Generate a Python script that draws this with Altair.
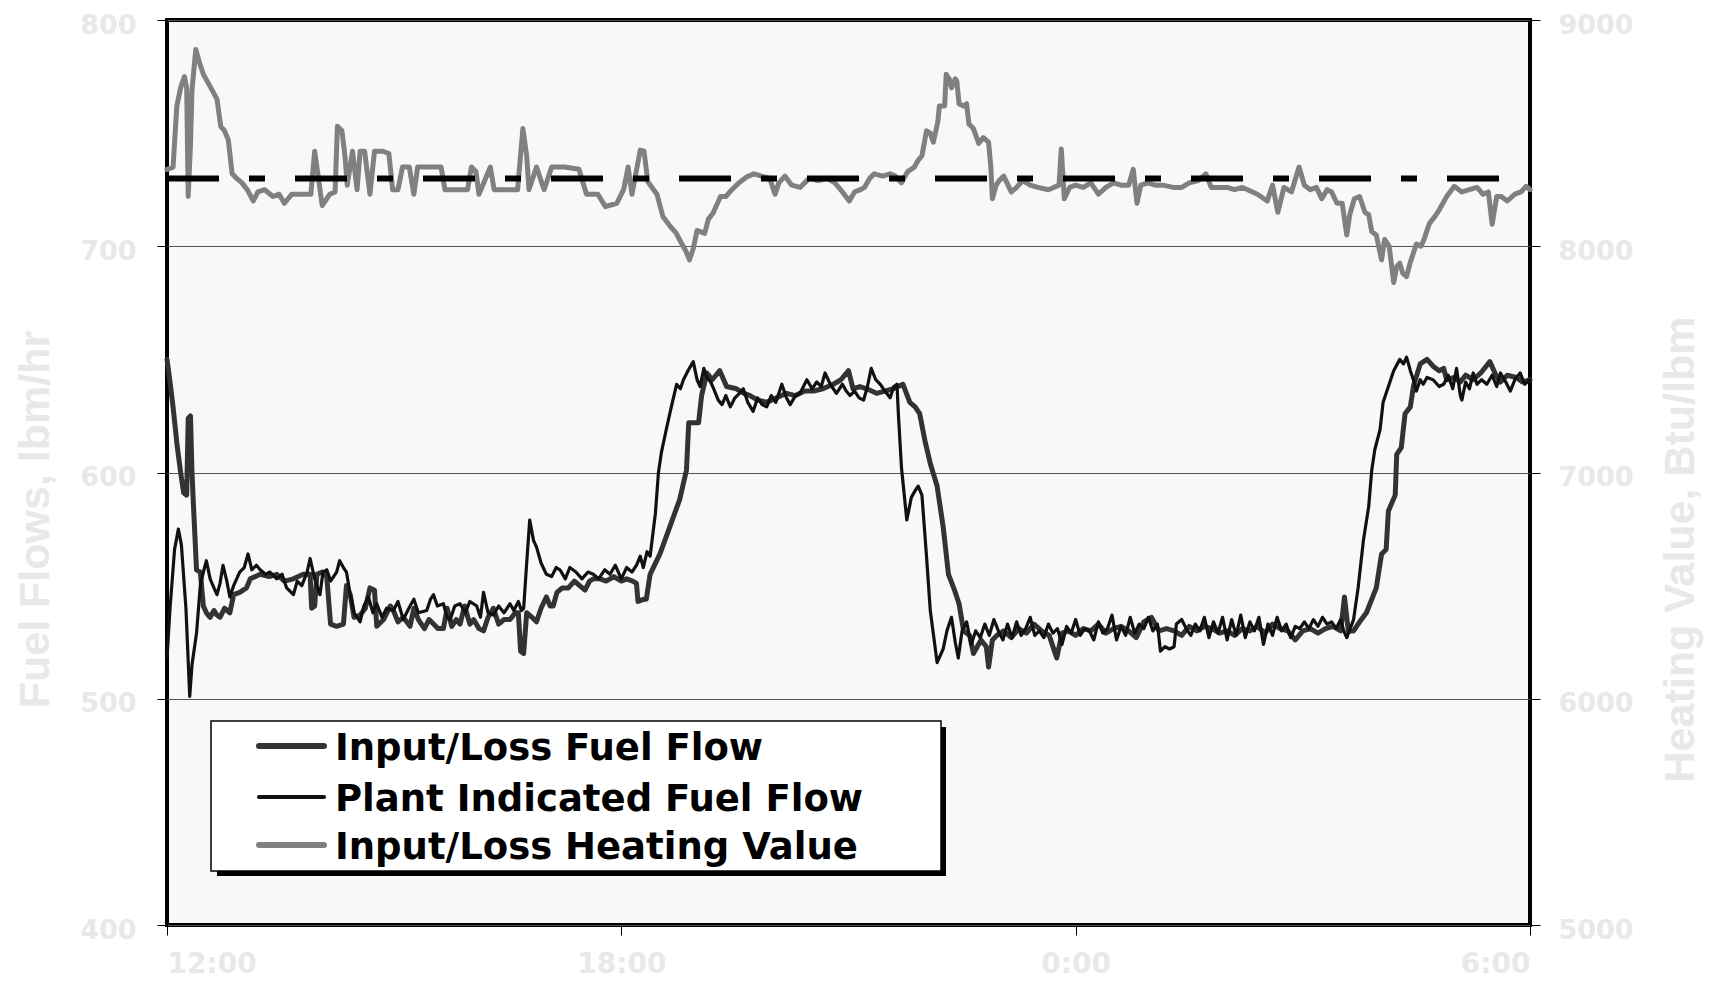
import altair as alt
import pandas as pd

# ---------------- data ----------------
series_names = ["Input/Loss Fuel Flow", "Plant Indicated Fuel Flow", "Input/Loss Heating Value"]
series_colors = ["#333333", "#111111", "#808080"]
x_tick_hours = [0, 6, 12, 18]
x_tick_labels = ["12:00", "18:00", "0:00", "6:00"]
left_ticks = [400, 500, 600, 700, 800]
right_ticks = [5000, 6000, 7000, 8000, 9000]
reference_heating_value = [8300]

# Input/Loss Fuel Flow (lbm/hr), hours after 12:00
thick_hours = [0.00, 0.04, 0.08, 0.13, 0.18, 0.22, 0.26, 0.28, 0.31, 0.33, 0.35, 0.39, 0.44, 0.48, 0.52, 0.57, 0.62, 0.66, 0.70, 0.76,
               0.83, 0.88, 0.96, 1.05, 1.10, 1.23, 1.35, 1.45, 1.55, 1.67, 1.80, 1.89, 1.91, 1.95, 1.98, 2.05, 2.11, 2.16, 2.24, 2.33,
               2.37, 2.42, 2.47, 2.55, 2.62, 2.68, 2.74, 2.77, 2.86, 2.95, 2.99, 3.05, 3.12, 3.21, 3.26, 3.32, 3.40, 3.46, 3.52, 3.58,
               3.65, 3.70, 3.76, 3.82, 3.87, 3.93, 4.00, 4.05, 4.12, 4.18, 4.24, 4.31, 4.38, 4.45, 4.53, 4.60, 4.64, 4.67, 4.71, 4.75,
               4.82, 4.88, 4.94, 5.01, 5.06, 5.10, 5.15, 5.22, 5.30, 5.38, 5.45, 5.52, 5.58, 5.63, 5.72, 5.80, 5.90, 6.00, 6.07, 6.15,
               6.20, 6.22, 6.30, 6.33, 6.38, 6.51, 6.64, 6.77, 6.86, 6.89, 7.02, 7.06, 7.13, 7.20, 7.30, 7.39, 7.52, 7.62, 7.70, 7.80,
               7.92, 8.05, 8.18, 8.30, 8.42, 8.54, 8.66, 8.80, 8.90, 9.00, 9.06, 9.15, 9.24, 9.37, 9.48, 9.59, 9.72, 9.81, 9.88, 9.94,
               10.01, 10.08, 10.17, 10.25, 10.32, 10.40, 10.46, 10.52, 10.60, 10.65, 10.75, 10.82, 10.85, 10.90, 10.96,
               11.05, 11.15, 11.25, 11.35, 11.45, 11.55, 11.65, 11.75, 11.82, 11.90, 12.00, 12.10, 12.20, 12.30, 12.40, 12.50, 12.60,
               12.70, 12.80, 12.90, 13.00, 13.10, 13.20, 13.30, 13.40, 13.50, 13.60, 13.70, 13.80, 13.90, 14.00, 14.10, 14.20, 14.30,
               14.40, 14.50, 14.60, 14.70, 14.80, 14.90, 15.00, 15.10, 15.20, 15.30, 15.40, 15.50, 15.55, 15.60, 15.67, 15.75, 15.84,
               15.97, 16.04, 16.10, 16.13, 16.22, 16.24, 16.30, 16.35, 16.42, 16.46, 16.55, 16.64, 16.72, 16.80, 16.86, 16.90, 17.00,
               17.08, 17.15, 17.25, 17.35, 17.47, 17.55, 17.61, 17.70, 17.82, 17.90, 18.00]
thick_values = [650, 640, 629, 613, 600, 591, 590, 624, 625, 600, 585, 557, 556, 541, 538, 536, 539, 537, 536, 540,
                538, 546, 547, 549, 553, 555, 554, 555, 552, 553, 555, 555, 540, 541, 555, 556, 554, 533, 532, 533,
                550, 546, 536, 537, 540, 549, 548, 532, 535, 541, 539, 534, 536, 532, 540, 535, 531, 535, 533, 531,
                531, 540, 532, 535, 533, 541, 533, 535, 531, 530, 536, 540, 533, 535, 535, 538, 538, 521, 520, 538,
                536, 534, 540, 545, 541, 541, 547, 549, 549, 552, 550, 548, 552, 553, 553, 552, 554, 552, 553, 552,
                551, 543, 544, 544, 555, 564, 576, 588, 601, 622, 622, 634, 644, 641, 645, 638, 637, 635, 634, 632,
                631, 633, 635, 634, 636, 636, 637, 639, 641, 645, 637, 638, 637, 635, 636, 637, 639, 631, 629, 626,
                614, 604, 594, 576, 555, 548, 542, 530, 528, 520, 526, 523, 514, 526, 528,
                530, 527, 531, 529, 533, 530, 528, 518, 529, 530, 528, 531, 530, 533, 529, 531, 532,
                530, 527, 534, 536, 530, 531, 530, 528, 532, 530, 532, 531, 529, 530, 528, 531, 530,
                532, 529, 533, 531, 530, 526, 530, 531, 529, 531, 532, 530, 545, 530, 530, 534, 538,
                549, 564, 566, 583, 590, 608, 611, 626, 629, 638, 648, 650, 647, 645, 646, 641, 642,
                640, 643, 641, 644, 649, 643, 640, 643, 642, 640, 641]

# Plant Indicated Fuel Flow (lbm/hr)
thin_hours = [0.00, 0.04, 0.10, 0.15, 0.19, 0.25, 0.30, 0.33, 0.39, 0.44, 0.48, 0.52, 0.57, 0.62, 0.66, 0.70, 0.74, 0.79, 0.83, 0.88,
              0.96, 1.02, 1.07, 1.12, 1.18, 1.23, 1.30, 1.36, 1.45, 1.52, 1.58, 1.67, 1.72, 1.78, 1.85, 1.89, 1.95, 2.02, 2.06, 2.11,
              2.16, 2.24, 2.28, 2.33, 2.37, 2.42, 2.47, 2.55, 2.60, 2.66, 2.72, 2.77, 2.84, 2.90, 2.99, 3.05, 3.12, 3.21, 3.26, 3.32,
              3.43, 3.48, 3.52, 3.57, 3.65, 3.70, 3.74, 3.80, 3.87, 3.94, 4.00, 4.09, 4.14, 4.18, 4.24, 4.31, 4.38, 4.45, 4.53, 4.58,
              4.64, 4.68, 4.71, 4.75, 4.79, 4.84, 4.88, 4.94, 5.01, 5.08, 5.14, 5.19, 5.26, 5.32, 5.40, 5.48, 5.56, 5.63, 5.70, 5.78,
              5.85, 5.92, 6.00, 6.07, 6.14, 6.20, 6.25, 6.29, 6.34, 6.38, 6.45, 6.49, 6.53, 6.60, 6.66, 6.73, 6.78, 6.82, 6.88, 6.95,
              7.00, 7.04, 7.09, 7.13, 7.18, 7.22, 7.28, 7.33, 7.38, 7.44, 7.50, 7.56, 7.61, 7.67, 7.74, 7.80, 7.86, 7.92, 7.98, 8.04,
              8.12, 8.18, 8.23, 8.30, 8.36, 8.45, 8.52, 8.58, 8.64, 8.69, 8.76, 8.84, 8.92, 8.97, 9.02, 9.08, 9.14, 9.20, 9.25, 9.30,
              9.36, 9.42, 9.48, 9.55, 9.60, 9.64, 9.66, 9.70, 9.77, 9.83, 9.88, 9.92, 9.97, 10.03, 10.08, 10.17, 10.25, 10.30, 10.36,
              10.41, 10.45, 10.50, 10.56, 10.62, 10.68, 10.74, 10.80, 10.86, 10.92, 10.98,
              11.04, 11.10, 11.16, 11.22, 11.28, 11.34, 11.40, 11.46, 11.52, 11.58, 11.64, 11.70, 11.76, 11.82, 11.88, 11.94, 12.00,
              12.06, 12.12, 12.18, 12.24, 12.30, 12.36, 12.42, 12.48, 12.54, 12.60, 12.66, 12.72, 12.78, 12.84, 12.90, 12.96, 13.02,
              13.08, 13.12, 13.18, 13.24, 13.30, 13.33, 13.40, 13.46, 13.52, 13.58, 13.64, 13.70, 13.76, 13.82, 13.88, 13.94, 14.00,
              14.06, 14.12, 14.18, 14.24, 14.30, 14.36, 14.42, 14.48, 14.54, 14.60, 14.66, 14.72, 14.78, 14.84, 14.90, 14.96, 15.02,
              15.08, 15.14, 15.20, 15.26, 15.32, 15.38, 15.44, 15.50, 15.54, 15.58, 15.67, 15.73, 15.80, 15.87, 15.91, 15.95, 16.02,
              16.06, 16.13, 16.20, 16.28, 16.33, 16.37, 16.42, 16.46, 16.50, 16.55, 16.59, 16.64, 16.72, 16.80, 16.86, 16.92, 16.98,
              17.03, 17.08, 17.10, 17.15, 17.20, 17.25, 17.30, 17.36, 17.43, 17.50, 17.56, 17.61, 17.68, 17.74, 17.80, 17.87, 17.93,
              18.00]
thin_values = [518, 540, 566, 575, 568, 540, 501, 515, 529, 550, 556, 561, 553, 549, 546, 551, 559, 552, 545, 550,
               556, 558, 564, 557, 559, 557, 555, 556, 553, 555, 549, 546, 552, 550, 556, 562, 553, 546, 556, 557,
               552, 556, 561, 558, 556, 546, 538, 534, 541, 545, 538, 542, 536, 540, 539, 543, 535, 541, 544, 538,
               539, 544, 546, 541, 542, 536, 535, 541, 542, 538, 543, 541, 536, 547, 538, 537, 541, 538, 542, 539,
               543, 539, 540, 560, 579, 570, 567, 560, 555, 554, 558, 557, 553, 558, 556, 553, 556, 555, 553, 557,
               555, 559, 553, 558, 556, 559, 563, 558, 565, 563, 582, 600, 609, 620, 629, 639, 637, 641, 645, 649,
               641, 638, 646, 642, 640, 637, 632, 630, 634, 629, 633, 635, 637, 631, 627, 633, 630, 629, 634, 631,
               639, 633, 630, 634, 635, 641, 637, 640, 638, 644, 639, 635, 639, 636, 634, 636, 633, 632, 638, 646,
               641, 639, 636, 633, 638, 639, 625, 602, 579, 589, 592, 594, 590, 563, 539, 516, 522, 530, 536,
               525, 518, 530, 534, 524, 530, 527, 533, 528, 535, 530,
               526, 533, 527, 534, 528, 531, 536, 528, 530, 527, 533, 529, 531, 524, 532, 529, 535,
               528, 531, 530, 526, 534, 529, 531, 537, 526, 532, 528, 536, 529, 533, 531, 536, 530,
               533, 521, 523, 522, 523, 533, 535, 531, 528, 533, 530, 536, 527, 534, 529, 536, 526,
               535, 528, 537, 527, 534, 530, 536, 524, 533, 528, 536, 530, 533, 527, 532, 531, 534,
               531, 535, 532, 536, 533, 534, 531, 535, 530, 527, 535, 549, 570, 585, 601, 610, 619,
               631, 638, 645, 650, 648, 651, 645, 641, 636, 641, 639, 642, 641, 638, 639, 643, 637,
               646, 634, 632, 640, 637, 644, 639, 641, 639, 643, 638, 644, 640, 636, 641, 644, 639,
               641]

# Input/Loss Heating Value (Btu/lbm)
heat_hours = [0.00, 0.08, 0.13, 0.18, 0.23, 0.26, 0.28, 0.31, 0.33, 0.38, 0.43, 0.48, 0.58, 0.66, 0.71, 0.76, 0.81, 0.86, 0.92, 0.99,
              1.06, 1.14, 1.20, 1.29, 1.40, 1.48, 1.55, 1.65, 1.80, 1.90, 1.95, 2.00, 2.05, 2.15, 2.22, 2.25, 2.31, 2.35, 2.38, 2.45,
              2.51, 2.55, 2.61, 2.68, 2.74, 2.85, 2.93, 2.98, 3.05, 3.11, 3.20, 3.26, 3.31, 3.45, 3.62, 3.67, 3.72, 3.90, 3.97, 4.02,
              4.08, 4.12, 4.27, 4.32, 4.50, 4.63, 4.70, 4.75, 4.78, 4.88, 4.98, 5.08, 5.25, 5.44, 5.54, 5.69, 5.79, 5.94, 6.03, 6.09,
              6.14, 6.25, 6.30, 6.35, 6.47, 6.55, 6.65, 6.72, 6.80, 6.85, 6.90, 6.95, 7.00, 7.10, 7.15, 7.21, 7.31, 7.38, 7.46, 7.55,
              7.66, 7.75, 7.85, 7.96, 8.03, 8.08, 8.16, 8.25, 8.36, 8.48, 8.60, 8.72, 8.82, 8.92, 9.01, 9.08, 9.16, 9.21, 9.28, 9.34,
              9.45, 9.55, 9.62, 9.70, 9.78, 9.87, 9.92, 9.97, 10.03, 10.08, 10.12, 10.18, 10.20, 10.27, 10.29, 10.33, 10.36, 10.41,
              10.43, 10.46, 10.52, 10.56, 10.59, 10.65, 10.72, 10.78, 10.85, 10.88, 10.90, 10.95, 10.99, 11.05, 11.15, 11.22, 11.30,
              11.40, 11.50, 11.64, 11.78, 11.81, 11.85, 11.92, 12.00, 12.10, 12.20, 12.30, 12.40, 12.50, 12.60, 12.70, 12.76, 12.81,
              12.86, 12.95, 13.05, 13.15, 13.29, 13.40, 13.50, 13.62, 13.72, 13.79, 13.90, 14.00, 14.10, 14.20, 14.27, 14.40, 14.53,
              14.60, 14.67, 14.75, 14.85, 14.95, 15.02, 15.10, 15.18, 15.25, 15.32, 15.38, 15.45, 15.52, 15.58, 15.62, 15.68, 15.75,
              15.82, 15.87, 15.91, 15.97, 16.04, 16.08, 16.14, 16.20, 16.24, 16.28, 16.32, 16.37, 16.42, 16.50, 16.56, 16.60, 16.67,
              16.74, 16.80, 16.90, 17.00, 17.10, 17.20, 17.30, 17.38, 17.45, 17.50, 17.56, 17.62, 17.70, 17.80, 17.88, 17.95, 18.00]
heat_values = [8340, 8350, 8620, 8700, 8750, 8700, 8220, 8450, 8690, 8870, 8810, 8760, 8700, 8650, 8530, 8510, 8470, 8320, 8300, 8280,
               8250, 8200, 8240, 8250, 8220, 8230, 8190, 8230, 8230, 8230, 8420, 8300, 8180, 8230, 8240, 8530, 8510, 8400, 8270, 8420,
               8250, 8420, 8420, 8230, 8420, 8420, 8410, 8250, 8250, 8350, 8350, 8230, 8350, 8350, 8350, 8250, 8250, 8250, 8250, 8350,
               8330, 8230, 8350, 8250, 8250, 8250, 8520, 8400, 8250, 8350, 8250, 8350, 8350, 8340, 8230, 8230, 8175, 8190, 8250, 8350,
               8230, 8425, 8420, 8285, 8230, 8130, 8086, 8060, 8010, 7980, 7940, 7990, 8070, 8057, 8120, 8146, 8220, 8220, 8250, 8280,
               8307, 8320, 8310, 8300, 8230, 8280, 8310, 8270, 8260, 8300, 8290, 8300, 8280, 8240, 8200, 8240, 8250, 8260, 8300, 8320,
               8310, 8320, 8310, 8280, 8330, 8350, 8380, 8400, 8510, 8500, 8460, 8550, 8620, 8620, 8760, 8740, 8700, 8740,
               8730, 8630, 8620, 8630, 8540, 8520, 8455, 8480, 8460, 8350, 8210, 8270, 8290, 8310, 8240, 8260, 8290,
               8270, 8260, 8250, 8270, 8430, 8210, 8260, 8270, 8260, 8280, 8230, 8260, 8280, 8270, 8270, 8340, 8190,
               8270, 8280, 8270, 8270, 8260, 8260, 8280, 8290, 8320, 8260, 8260, 8260, 8250, 8260, 8250, 8230, 8200,
               8270, 8150, 8260, 8240, 8350, 8270, 8250, 8260, 8210, 8250, 8240, 8190, 8190, 8050, 8140, 8210, 8220,
               8150, 8140, 8065, 8050, 7940, 8030, 8000, 7840, 7910, 7925, 7880, 7866, 7930, 8010, 8000, 8030, 8100,
               8130, 8160, 8220, 8265, 8240, 8250, 8260, 8230, 8240, 8097, 8220, 8220, 8200, 8230, 8240, 8265, 8250]

# ---------------- tables ----------------
thick_df = pd.DataFrame({"hour": thick_hours, "value": thick_values, "series": series_names[0]})
thin_df = pd.DataFrame({"hour": thin_hours, "value": thin_values, "series": series_names[1]})
heat_df = pd.DataFrame({"hour": heat_hours, "value": heat_values, "series": series_names[2]})
ref_df = pd.DataFrame({"value": reference_heating_value})
legend_df = pd.DataFrame({"series": series_names})
box_df = pd.DataFrame({"k": [0]})

LABEL_FONT = "DejaVu Sans"
TITLE_FONT = "Liberation Sans"
LIGHT = "#e8e8e8"
line_widths = [5, 3.2, 5]

label_js = "[" + ",".join("'" + s + "'" for s in x_tick_labels) + "]"
x_enc = alt.X(
    "hour:Q",
    scale=alt.Scale(domain=[0, 18], nice=False, zero=False),
    axis=alt.Axis(values=x_tick_hours, labelExpr=label_js + "[round(datum.value/6)]", title=None,
                  grid=False, domain=False, tickSize=10, tickColor="black", tickWidth=1,
                  labelFont=LABEL_FONT, labelFontSize=28, labelFontWeight="bold", labelColor=LIGHT,
                  labelPadding=15),
)

left_axis = alt.Axis(values=left_ticks, title="Fuel Flows, lbm/hr", grid=True, gridColor="#555555", gridWidth=1,
                     domain=False, tickSize=10, tickColor="black", tickWidth=1,
                     labelFont=LABEL_FONT, labelFontSize=27, labelFontWeight="bold", labelColor=LIGHT, labelPadding=21,
                     labelOffset=5,
                     titleFont=TITLE_FONT, titleFontSize=43, titleFontWeight="bold", titleColor=LIGHT,
                     titleAngle=270, titleAlign="center", titleBaseline="alphabetic", titleX=-119, titleY=499)
right_axis = alt.Axis(values=right_ticks, orient="right", format="d", title="Heating Value, Btu/lbm", grid=False,
                      domain=False, tickSize=10, tickColor="black", tickWidth=1,
                      labelFont=LABEL_FONT, labelFontSize=27, labelFontWeight="bold", labelColor=LIGHT, labelPadding=18,
                      labelOffset=5,
                      titleFont=TITLE_FONT, titleFontSize=43, titleFontWeight="bold", titleColor=LIGHT,
                      titleAngle=270, titleAlign="center", titleBaseline="alphabetic", titleX=163, titleY=529)

y_left = alt.Y("value:Q", scale=alt.Scale(domain=[400, 800], nice=False, zero=False), axis=left_axis)
y_right = alt.Y("value:Q", scale=alt.Scale(domain=[5000, 9000], nice=False, zero=False), axis=right_axis)
color_enc = alt.Color("series:N", scale=alt.Scale(domain=series_names, range=series_colors), legend=None)

# legend box with drop shadow, drawn in pixel space of the plot
shadow = alt.Chart(box_df).mark_rect(color="black").encode(
    x=alt.value(50), x2=alt.value(779), y=alt.value(707), y2=alt.value(856))
box = alt.Chart(box_df).mark_rect(fill="white", stroke="black", strokeWidth=1.5).encode(
    x=alt.value(44), x2=alt.value(774), y=alt.value(701), y2=alt.value(851))

legend_rows_y = [726, 777, 825]
legend_layers = []
for name, w, ry in zip(series_names, line_widths, legend_rows_y):
    sel = alt.Chart(legend_df).transform_filter(alt.datum.series == name)
    legend_layers.append(sel.mark_rule(strokeWidth=w + 1, strokeCap="round").encode(
        x=alt.value(92), x2=alt.value(157), y=alt.value(ry), color=color_enc))
    legend_layers.append(sel.mark_text(align="left", baseline="middle", font=LABEL_FONT, fontSize=37,
                                       fontWeight="bold", color="black", dy=3).encode(
        x=alt.value(168), y=alt.value(ry), text="series:N"))

thick = alt.Chart(thick_df).mark_line(strokeWidth=line_widths[0], strokeJoin="round", strokeCap="round").encode(
    x=x_enc, y=y_left, color=color_enc)
thin = alt.Chart(thin_df).mark_line(strokeWidth=line_widths[1], strokeJoin="round", strokeCap="round").encode(
    x=x_enc, y=y_left, color=color_enc)
heat = alt.Chart(heat_df).mark_line(strokeWidth=line_widths[2], strokeJoin="round", strokeCap="round").encode(
    x=x_enc, y=y_right, color=color_enc)
ref = alt.Chart(ref_df).mark_rule(color="black", strokeWidth=6, strokeDash=[52, 30, 16, 30],
                                  strokeDashOffset=97).encode(y=y_right)

left_group = alt.layer(shadow, box, thick, thin, *legend_layers)
right_group = alt.layer(heat, ref)

chart = alt.layer(left_group, right_group).resolve_scale(y="independent").properties(
    width=1363, height=905,
    padding={"left": 159, "top": 12, "right": 175, "bottom": 55},
    autosize=alt.AutoSizeParams(type="none"),
    background="white",
).configure_view(stroke="black", strokeWidth=4, fill="#f8f8f8")

chart.save("out.html", embed_options={"renderer": "svg", "actions": False})
